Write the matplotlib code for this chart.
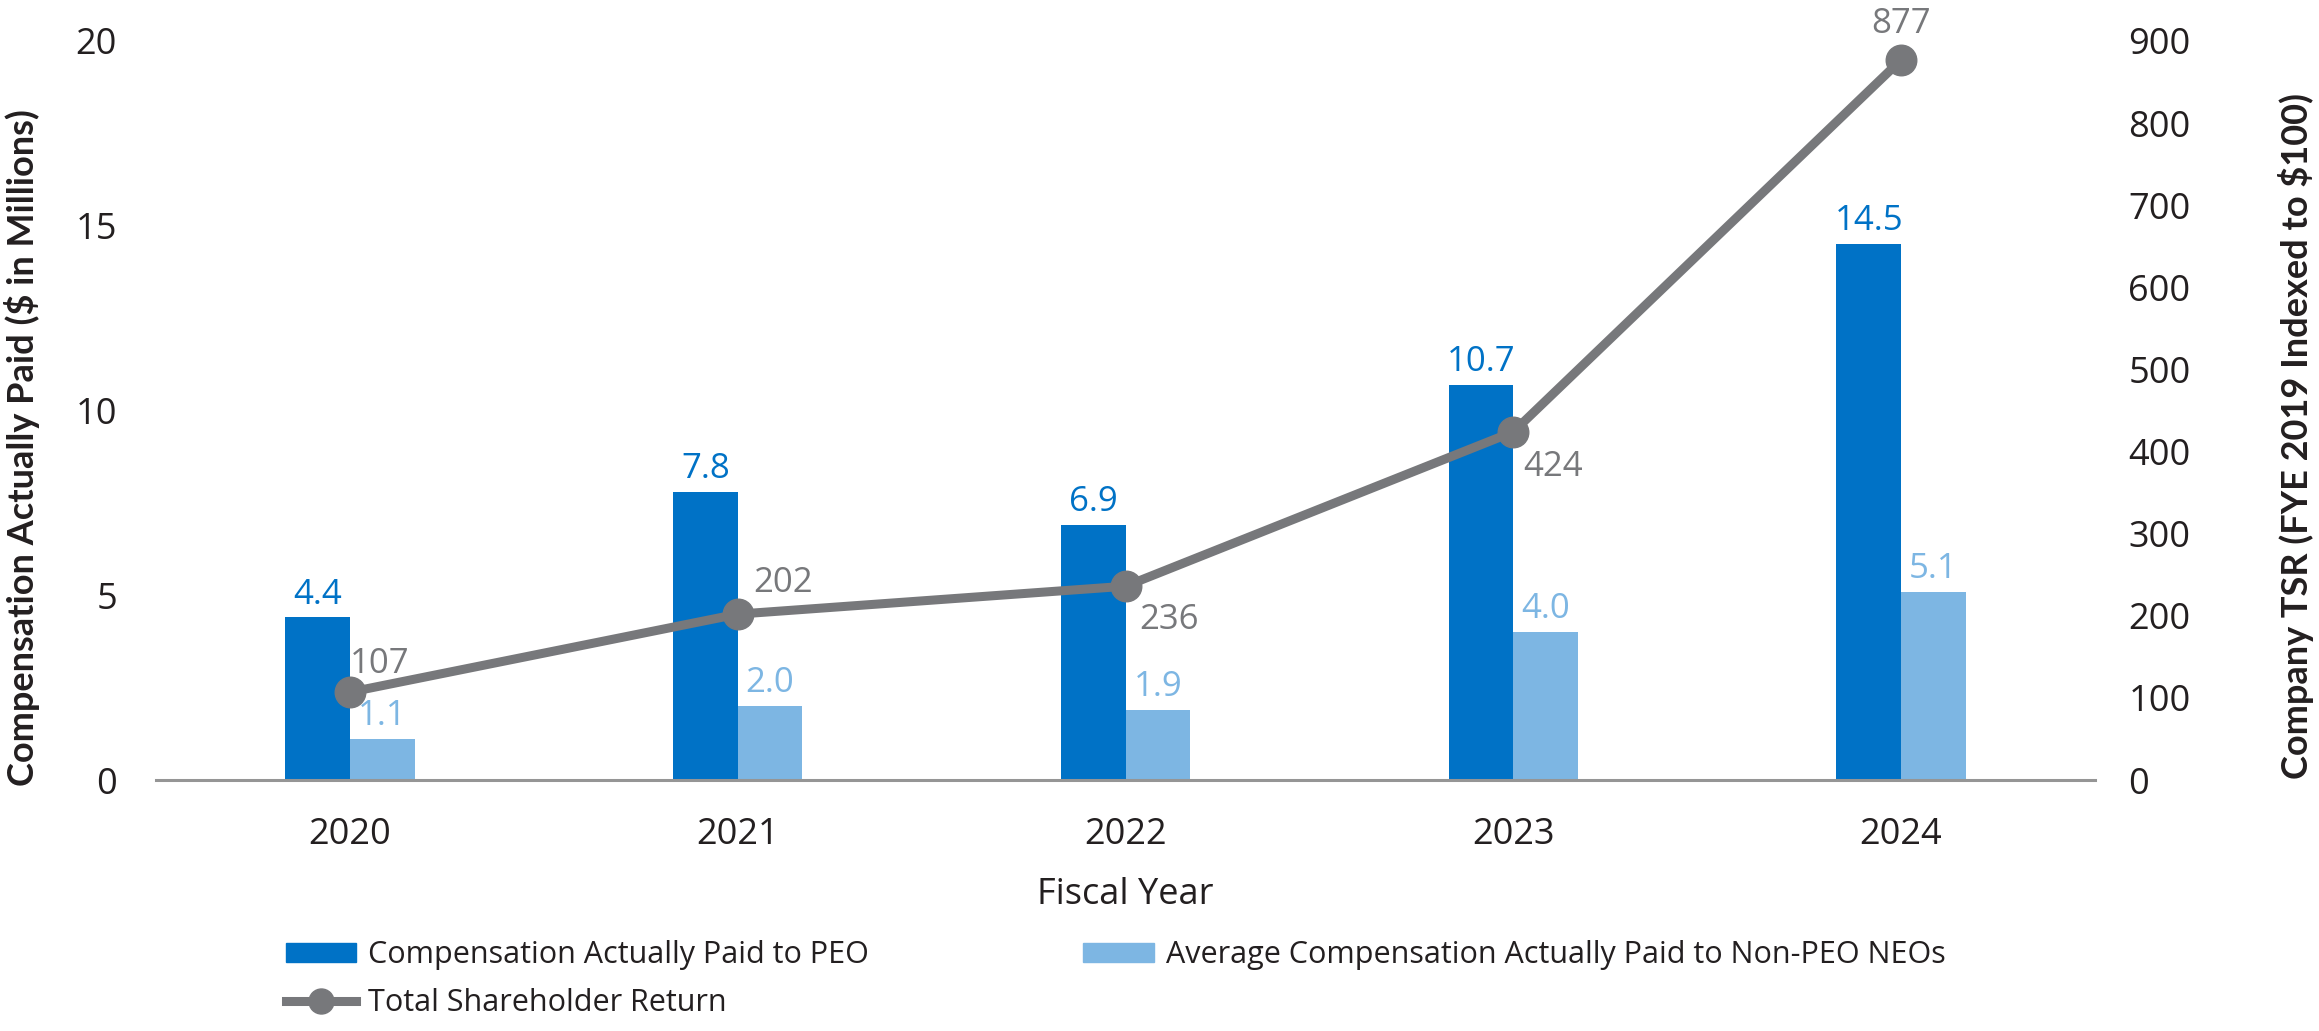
import numpy as np
import matplotlib.pyplot as plt
from matplotlib.patches import Patch
from matplotlib.lines import Line2D

# values
years = ['2020', '2021', '2022', '2023', '2024']
cap_peo = [4.4, 7.8, 6.9, 10.7, 14.5]
cap_neo = [1.1, 2.0, 1.9, 4.0, 5.1]
tsr = [107, 202, 236, 424, 877]

# where each TSR label sits relative to its marker (points), and alignment
tsr_offsets = [(0, 14), (11, 16), (10, -31), (7, -32), (0, 19)]
tsr_ha = ['left', 'left', 'left', 'left', 'center']

dark = '#0072C6'
light = '#7DB6E3'
grey = '#77787B'
txt = '#231F20'

plt.rcParams['font.family'] = ['Open Sans', 'DejaVu Sans']

fig = plt.figure(figsize=(23.19, 10.31), dpi=100)
ax = fig.add_axes([156 / 2319, 251 / 1031, 1939 / 2319, 739 / 1031])
ax2 = ax.twinx()

x = np.arange(len(years))
w = 0.167
ax.bar(x - w / 2, cap_peo, w, color=dark, zorder=2)
ax.bar(x + w / 2, cap_neo, w, color=light, zorder=2)

for xi, v in zip(x, cap_peo):
    ax.annotate(f'{v:.1f}', (xi - w / 2, v), xytext=(0, 10), textcoords='offset points',
                ha='center', va='baseline', fontsize=25, color=dark)
for xi, v in zip(x, cap_neo):
    ax.annotate(f'{v:.1f}', (xi + w / 2, v), xytext=(0, 10), textcoords='offset points',
                ha='center', va='baseline', fontsize=25, color=light)

ax2.plot(x, tsr, color=grey, lw=6.5, marker='o', ms=22, zorder=3)
for xi, v, off, ha in zip(x, tsr, tsr_offsets, tsr_ha):
    ax2.annotate(str(v), (xi, v), xytext=off, textcoords='offset points',
                 ha=ha, va='baseline', fontsize=25, color=grey)

ax.set_xlim(-0.5, 4.5)
ax.set_ylim(0, 20)
ax2.set_ylim(0, 900)
ax.set_yticks([0, 5, 10, 15, 20])
ax2.set_yticks(range(0, 901, 100))
ax.set_xticks(x)
ax.set_xticklabels(years)

for a in (ax, ax2):
    for s in ['top', 'left', 'right', 'bottom']:
        a.spines[s].set_visible(False)
ax.spines['bottom'].set_visible(True)
ax.spines['bottom'].set_color('#959595')
ax.spines['bottom'].set_linewidth(2.2)

ax.tick_params(axis='y', length=0, pad=28, labelsize=26, labelcolor=txt)
ax.tick_params(axis='x', length=0, pad=27, labelsize=26, labelcolor=txt)
ax2.tick_params(axis='y', length=0, pad=24, labelsize=26, labelcolor=txt)

ax.set_xlabel('Fiscal Year', fontsize=26, color=txt, labelpad=17)

# axis titles placed directly in figure coordinates
bold = dict(rotation=90, ha='center', va='center', fontsize=26, fontweight='bold',
            color=txt, family=['Lato', 'DejaVu Sans'])
fig.text(22 / 2319, (1031 - 448) / 1031, 'Compensation Actually Paid ($ in Millions)', **bold)
fig.text(2296 / 2319, (1031 - 436) / 1031, 'Company TSR (FYE 2019 Indexed to $100)', **bold)

handles = [Patch(color=dark),
           Line2D([], [], color=grey, lw=6.5, marker='o', ms=18),
           Patch(color=light)]
labels = ['Compensation Actually Paid to PEO', 'Total Shareholder Return',
          'Average Compensation Actually Paid to Non-PEO NEOs']
fig.legend(handles, labels, loc='upper left', bbox_to_anchor=(286 / 2319, (1031 - 940) / 1031),
           ncol=2, frameon=False, fontsize=22, handlelength=2.3, handleheight=0.6,
           handletextpad=0.4, columnspacing=7.0, labelspacing=0.6, borderpad=0,
           borderaxespad=0, labelcolor=txt)

fig.savefig('out.png', dpi=100)
